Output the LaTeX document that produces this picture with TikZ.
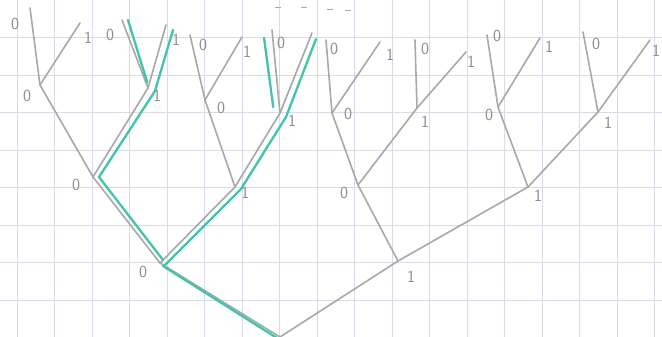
\documentclass[tikz,border=0pt]{standalone}
\usepackage{tikz}
\usetikzlibrary{arrows.meta,positioning}
\definecolor{pencil}{RGB}{168,168,168}
\definecolor{mint}{RGB}{66,196,172}
\definecolor{gridline}{RGB}{218,218,232}
\begin{document}
\begin{tikzpicture}[x=1pt,y=-1pt,
  edge/.style={pencil,line width=1.6pt,line cap=round},
  trail/.style={mint,line width=2.3pt,line cap=round},
  bit/.style={pencil!85!black,font=\sffamily\fontsize{17}{17}\selectfont,inner sep=0pt}]
\useasboundingbox (0,0) rectangle (662,337);
\fill[white] (0,0) rectangle (662,337);
% grid paper
\foreach \gx in {0,...,17} \draw[gridline,line width=0.8pt] (17+37.5*\gx,0) -- (17+37.5*\gx,337);
\foreach \gy in {1,...,8} \draw[gridline,line width=0.8pt] (0,37.5*\gy) -- (662,37.5*\gy);
% tree points
\coordinate (r) at (280,337);
\coordinate (n0) at (160,263);
\coordinate (n1) at (398,261);
\coordinate (n00) at (93,177);
\coordinate (n01) at (235,187);
\coordinate (n10) at (358,185);
\coordinate (n11) at (528,187);
\coordinate (n000) at (40,85);
\coordinate (n001) at (148,88);
\coordinate (n010) at (205,100);
\coordinate (n011) at (280,113);
\coordinate (n100) at (332,113);
\coordinate (n101) at (417,108);
\coordinate (n110) at (498,107);
\coordinate (n111) at (598,112);
\coordinate (t0000) at (30,8);
\coordinate (t0001) at (80,23);
\coordinate (t0010) at (122,20);
\coordinate (t0011) at (166,25);
\coordinate (t0100) at (190,35);
\coordinate (t0101) at (242,37);
\coordinate (t0110) at (272,30);
\coordinate (t0111) at (312,33);
\coordinate (t1000) at (326,40);
\coordinate (t1001) at (380,42);
\coordinate (t1010) at (415,40);
\coordinate (t1011) at (466,52);
\coordinate (t1100) at (487,35);
\coordinate (t1101) at (540,38);
\coordinate (t1110) at (583,32);
\coordinate (t1111) at (650,40);
% pencil edges
\foreach \a/\b in {r/n0,r/n1,n0/n00,n0/n01,n1/n10,n1/n11,
  n00/n000,n00/n001,n01/n010,n01/n011,n10/n100,n10/n101,n11/n110,n11/n111,
  n000/t0000,n000/t0001,n001/t0010,n001/t0011,n010/t0100,n010/t0101,n011/t0110,n011/t0111,
  n100/t1000,n100/t1001,n101/t1010,n101/t1011,n110/t1100,n110/t1101,n111/t1110,n111/t1111}
  \draw[edge] (\a) -- (\b);
% highlighted paths
\draw[trail] ([shift={(-3,1)}]r) -- ([shift={(3,3)}]n0);
\draw[trail] ([shift={(3,-3)}]n0) -- ([shift={(6,0)}]n00) -- ([shift={(7,3)}]n001) -- ([shift={(7,5)}]t0011);
\draw[trail] ([shift={(5,2)}]n0) -- ([shift={(6,2)}]n01) -- ([shift={(6,4)}]n011) -- ([shift={(4,6)}]t0111);
\draw[trail,shorten >=6pt] ([shift={(6,0)}]t0010) -- ([shift={(1,0)}]n001);
\draw[trail,shorten <=8pt,shorten >=6pt] ([shift={(-9,0)}]t0110) -- ([shift={(-6,0)}]n011);
% small marks at the top
\foreach \mx/\my in {278/8,304/8,330/10,348/11}
  \draw[pencil,line width=1pt] (\mx-3,\my) -- (\mx+3,\my);
% bits
\foreach \n/\x/\y/\t in {0000/15/24/0,0001/88/38/1,0010/110/35/0,0011/176/40/1,
  0100/203/45/0,0101/247/52/1,0110/281/43/0,1000/334/49/0,1001/390/55/1,
  1010/425/49/0,1011/471/62/1,1100/497/36/0,1101/549/47/1,1110/596/44/0,1111/656/51/1,
  000/27/96/0,001/157/96/1,010/221/108/0,011/292/121/1,100/348/114/0,101/425/122/1,
  110/489/115/0,111/608/123/1,00/76/185/0,01/245/193/1,10/344/193/0,11/538/196/1,
  0/143/272/0,1/411/277/1}
  \node[bit] (b\n) at (\x,\y) {\t};
\end{tikzpicture}
\end{document}
